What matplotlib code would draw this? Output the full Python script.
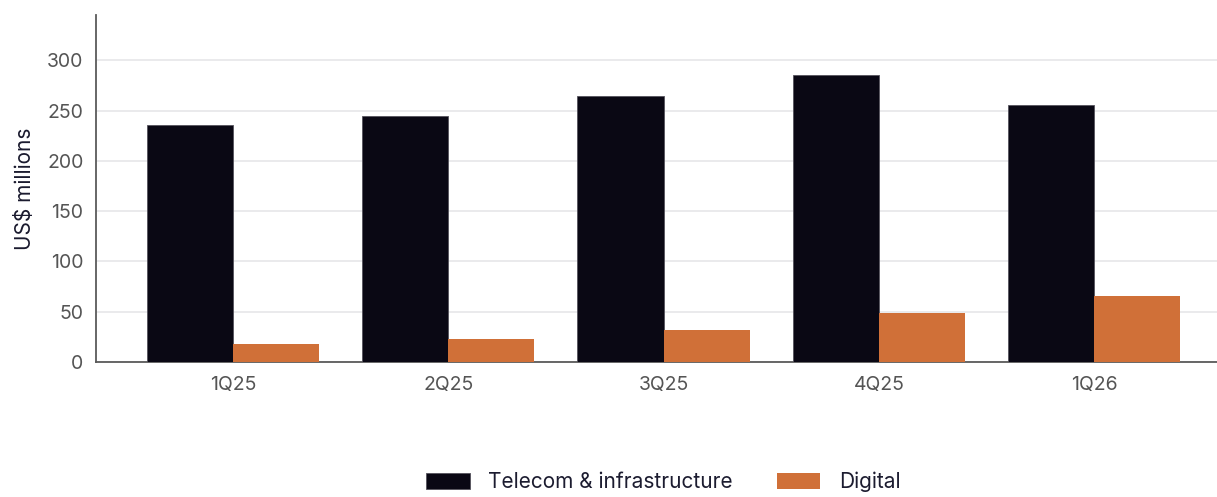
import matplotlib
matplotlib.use("Agg")
import matplotlib.pyplot as plt
import numpy as np

quarters = ["1Q25", "2Q25", "3Q25", "4Q25", "1Q26"]
telecom = [236, 245, 264, 285, 256]
digital = [18, 23, 32, 49, 66]

plt.rcParams["font.family"] = ["Inter", "DejaVu Sans"]

fig = plt.figure(figsize=(12.17, 4.97), dpi=100)
ax = fig.add_axes([96 / 1217, 135 / 497, 1 - 96 / 1217, 347 / 497])

x = np.arange(len(quarters))
w = 0.4
ax.bar(x - w / 2, telecom, w, color="#0a0814", edgecolor="#55525c",
       linewidth=0.6, label="Telecom & infrastructure", zorder=3)
ax.bar(x + w / 2, digital, w, color="#d07038", linewidth=0,
       label="Digital", zorder=3)

ax.set_xlim(-0.636, 4.57)
ax.set_ylim(0, 345)
ax.set_yticks(range(0, 301, 50))
ax.set_xticks(x)
ax.set_xticklabels(quarters)
ax.grid(axis="y", color="#e6e6e9", linewidth=1.2, zorder=0)
ax.tick_params(length=0, labelsize=14, colors="#555555", pad=9)
ax.tick_params(axis="x", pad=10)

for side in ("top", "right"):
    ax.spines[side].set_visible(False)
for side in ("left", "bottom"):
    ax.spines[side].set_color("#5a5a5a")
    ax.spines[side].set_linewidth(1.3)

ax.set_ylabel("US$ millions", fontsize=15, color="#1a1a2e", labelpad=9)

fig.legend(loc="center", bbox_to_anchor=(0.545, 0.03), ncol=2, frameon=False,
           fontsize=15, labelcolor="#1c1c30", handlelength=2.1,
           handleheight=0.8, handletextpad=0.9, columnspacing=2.1)

fig.savefig("out.png", dpi=100, facecolor="white")
